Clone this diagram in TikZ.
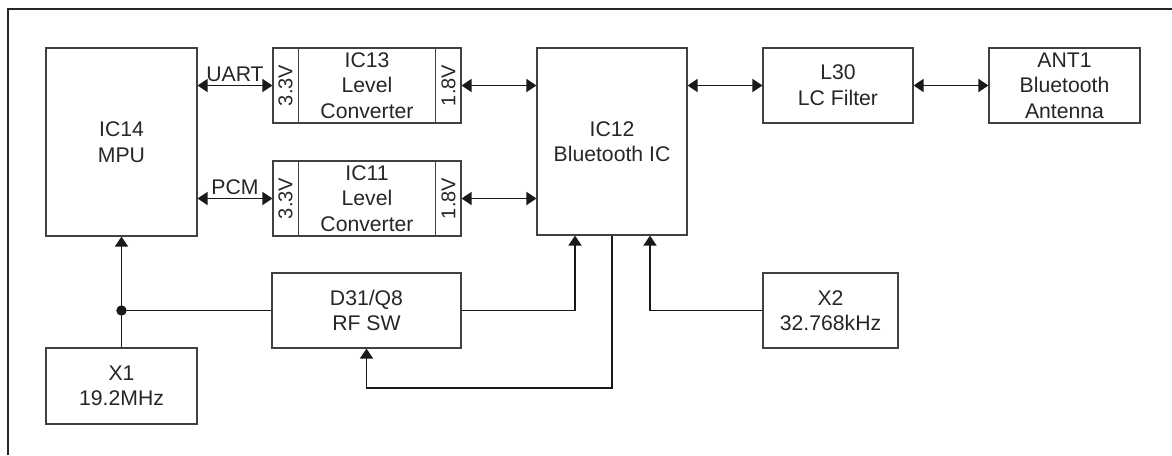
\documentclass[tikz,border=0pt]{standalone}
\usepackage{fontspec}
\setmainfont{Liberation Sans}
\usetikzlibrary{
  arrows.meta,   % Triangle 箭头
  calc,          % 坐标计算
  positioning    % 节点相对定位
}

\tikzset{
  blk/.style={draw=black!75, line width=0.6pt, rectangle, align=center,
              inner sep=0pt, text=black!85,
              font=\fontsize{10.6}{12.8}\selectfont},
  volt/.style={rotate=90, inner sep=0pt, text=black!85,
               font=\fontsize{10}{11}\selectfont},
  sig/.style={line width=0.9pt, black!90},
  biarrow/.style={sig, {Triangle[length=5pt,width=6.5pt]}-{Triangle[length=5pt,width=6.5pt]}},
  uparrow/.style={sig, -{Triangle[length=5pt,width=6.5pt]}},
  lbl/.style={above, inner sep=1.5pt, text=black!85, font=\fontsize{10.6}{12}\selectfont}
}

\begin{document}
\begin{tikzpicture}[x=0.5pt, y=-0.5pt]

  \useasboundingbox (0,0) rectangle (1172,455);

  % =========== 外框 (只有上边和左边) ===========
  \draw[line width=0.9pt, black!85] (8,455) -- (8,9) -- (1172,9);

  % =========== 方框 ===========
  \node[blk, minimum width=75.5pt, minimum height=94pt]   (mpu)  at (121.5,142)   {IC14\\MPU};
  \node[blk, minimum width=94pt,   minimum height=37.5pt] (ic13) at (367,85.5)    {IC13\\Level\\Converter};
  \node[blk, minimum width=94pt,   minimum height=37.5pt] (ic11) at (367,198.5)   {IC11\\Level\\Converter};
  \node[blk, minimum width=75pt,   minimum height=93.5pt] (bt)   at (612,141.5)   {IC12\\Bluetooth IC};
  \node[blk, minimum width=75pt,   minimum height=37.5pt] (lcf)  at (838,85.5)    {L30\\LC Filter};
  \node[blk, minimum width=75.5pt, minimum height=37.5pt] (ant)  at (1064.5,85.5) {ANT1\\Bluetooth\\Antenna};
  \node[blk, minimum width=94.5pt, minimum height=37.5pt] (rfsw) at (366.5,310.5) {D31/Q8\\RF SW};
  \node[blk, minimum width=75.5pt, minimum height=38pt]   (xa)   at (121.5,386)   {X1\\19.2MHz};
  \node[blk, minimum width=67.5pt, minimum height=37.5pt] (xb)   at (830.5,310.5) {X2\\32.768kHz};

  % 电平转换器两侧的电压分隔栏
  \draw[draw=black!75, line width=0.6pt] ([xshift=13pt]ic13.north west) -- ([xshift=13pt]ic13.south west);
  \draw[draw=black!75, line width=0.6pt] ([xshift=-13pt]ic13.north east) -- ([xshift=-13pt]ic13.south east);
  \draw[draw=black!75, line width=0.6pt] ([xshift=13pt]ic11.north west) -- ([xshift=13pt]ic11.south west);
  \draw[draw=black!75, line width=0.6pt] ([xshift=-13pt]ic11.north east) -- ([xshift=-13pt]ic11.south east);
  \node[volt] (ic13lo) at ([xshift=6.5pt]ic13.west)  {3.3V};
  \node[volt] (ic13hi) at ([xshift=-6.5pt]ic13.east) {1.8V};
  \node[volt] (ic11lo) at ([xshift=6.5pt]ic11.west)  {3.3V};
  \node[volt] (ic11hi) at ([xshift=-6.5pt]ic11.east) {1.8V};

  % =========== 双向信号 ===========
  \draw[biarrow] (ic13.west -| mpu.east) -- node[lbl] (uart) {UART} (ic13.west);
  \draw[biarrow] (ic11.west -| mpu.east) -- node[lbl] (pcm) {PCM} (ic11.west);
  \draw[biarrow] (ic13.east) -- (ic13.east -| bt.west);
  \draw[biarrow] (ic11.east) -- (ic11.east -| bt.west);
  \draw[biarrow] (lcf.west -| bt.east) -- (lcf.west);
  \draw[biarrow] (lcf.east) -- (ant.west);

  % =========== 时钟与射频开关 ===========
  \coordinate (jn) at (mpu.south |- rfsw.west);
  \draw[uparrow] (xa.north) -- (mpu.south);
  \draw[sig] (jn) -- (rfsw.west);
  \fill[black!90] (jn) circle (2.6pt);

  \draw[uparrow] (rfsw.east) -| ([xshift=-18.5pt]bt.south);
  \draw[uparrow] (xb.west) -| ([xshift=19pt]bt.south);

  \coordinate (ret) at ($(bt.south)+(0,152)$);
  \draw[uparrow] (bt.south) -- (ret) -| (rfsw.south);

\end{tikzpicture}
\end{document}
